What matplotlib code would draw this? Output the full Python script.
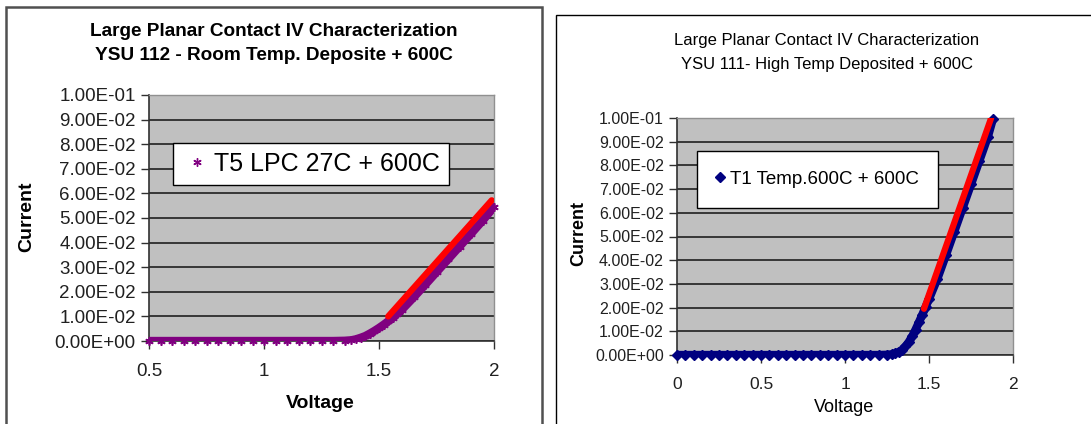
import matplotlib
matplotlib.use("Agg")
import matplotlib.pyplot as plt
from matplotlib.patches import Rectangle
from matplotlib.ticker import FuncFormatter
from matplotlib.lines import Line2D

# ---------------- data ----------------
left_label = "T5 LPC 27C + 600C"
right_label = "T1 Temp.600C + 600C"

left_v = [0.50, 0.55, 0.60, 0.65, 0.70, 0.75, 0.80, 0.85, 0.90, 0.95, 1.00, 1.05, 1.10,
          1.15, 1.20, 1.25, 1.30, 1.35, 1.38, 1.40, 1.42, 1.44, 1.46, 1.48, 1.50, 1.52,
          1.54, 1.56, 1.58, 1.60, 1.65, 1.70, 1.75, 1.80, 1.85, 1.90, 1.95, 2.00]
left_i = [0.0, 0.0, 0.0, 0.0, 0.0, 0.0, 0.0, 0.0, 0.0, 0.0, 0.0, 0.0, 0.0,
          0.0, 0.0, 0.0, 0.0, 0.0001, 0.0003, 0.0007, 0.0013, 0.0020, 0.0030, 0.0041, 0.0053, 0.0066,
          0.0080, 0.0095, 0.0111, 0.0128, 0.0177, 0.0228, 0.0280, 0.0332, 0.0384, 0.0436, 0.0489, 0.0545]
left_fit_v = [1.54, 1.99]
left_fit_i = [0.0100, 0.0572]

right_v = [0.00, 0.05, 0.10, 0.15, 0.20, 0.25, 0.30, 0.35, 0.40, 0.45, 0.50, 0.55, 0.60,
           0.65, 0.70, 0.75, 0.80, 0.85, 0.90, 0.95, 1.00, 1.05, 1.10, 1.15, 1.20, 1.25,
           1.28, 1.30, 1.32, 1.34, 1.36, 1.38, 1.40, 1.42, 1.44, 1.46, 1.48, 1.50,
           1.55, 1.60, 1.65, 1.70, 1.75, 1.80, 1.85, 1.88]
right_i = [0.0, 0.0, 0.0, 0.0, 0.0, 0.0, 0.0, 0.0, 0.0, 0.0, 0.0, 0.0, 0.0,
           0.0, 0.0, 0.0, 0.0, 0.0, 0.0, 0.0, 0.0, 0.0, 0.0, 0.0, 0.0, 0.0001,
           0.0003, 0.0007, 0.0013, 0.0022, 0.0036, 0.0055, 0.0079, 0.0107, 0.0138, 0.0170, 0.0203, 0.0236,
           0.0322, 0.0420, 0.0520, 0.0620, 0.0720, 0.0820, 0.0920, 0.0995]
right_fit_v = [1.47, 1.87]
right_fit_i = [0.0195, 0.1000]

y_ticks = [0.0, 0.01, 0.02, 0.03, 0.04, 0.05, 0.06, 0.07, 0.08, 0.09, 0.10]
left_xticks = [0.5, 1, 1.5, 2]
right_xticks = [0, 0.5, 1, 1.5, 2]

# ---------------- figure ----------------
W, H = 1091, 424
fig = plt.figure(figsize=(W / 100, H / 100), dpi=100)
fig.patch.set_facecolor("white")

def px(x, y):
    return x / W, 1 - y / H

REG = ["Liberation Sans", "DejaVu Sans"]

# panel frames
fig.add_artist(Rectangle(px(6, 430), (542 - 6) / W, (430 - 7) / H, transform=fig.transFigure,
                         fill=False, edgecolor="#505050", lw=1.8))
fig.add_artist(Rectangle(px(556, 430), (1100 - 556) / W, (430 - 15) / H, transform=fig.transFigure,
                         fill=False, edgecolor="black", lw=1.0))

def sci(v, pos):
    return f"{v:.2E}"

def gfmt(v, pos):
    return f"{v:g}"

def style_axes(ax, xlim, xticks, ysize, xsize):
    ax.set_facecolor("#c0c0c0")
    ax.set_xlim(*xlim)
    ax.set_ylim(0, 0.1)
    ax.set_yticks(y_ticks)
    ax.set_xticks(xticks)
    ax.yaxis.set_major_formatter(FuncFormatter(sci))
    ax.xaxis.set_major_formatter(FuncFormatter(gfmt))
    ax.grid(axis="y", color="#202020", lw=1.2)
    ax.set_axisbelow(True)
    for s in ["top", "right"]:
        ax.spines[s].set_color("#909090")
        ax.spines[s].set_linewidth(1.0)
    for s in ["left", "bottom"]:
        ax.spines[s].set_color("#303030")
        ax.spines[s].set_linewidth(1.2)
    ax.tick_params(axis="both", direction="out", length=6, width=1.0, color="#303030",
                   labelcolor="#202020")
    ax.tick_params(axis="y", labelsize=ysize)
    ax.tick_params(axis="x", labelsize=xsize, pad=10)
    for lab in ax.get_xticklabels() + ax.get_yticklabels():
        lab.set_family(REG)

# ---------- left panel ----------
axL = fig.add_axes([149 / W, 1 - 341 / H, (494 - 149) / W, (341 - 95) / H])
style_axes(axL, (0.5, 2.0), left_xticks, 13.5, 13.5)
axL.plot(left_v, left_i, color="#800080", lw=6, solid_capstyle="round", zorder=3)
axL.plot(left_v, left_i, ls="none", marker=(6, 2, 0), ms=6, mew=1.2, color="#800080",
         zorder=3, clip_on=False)
axL.plot(left_fit_v, left_fit_i, color="#ff0000", lw=4.5, solid_capstyle="round", zorder=4)
legL = axL.legend([Line2D([], [], ls="none", marker=(6, 2, 0), ms=6, mew=1.0, color="#800080")],
                  [left_label], loc="upper left",
                  bbox_to_anchor=(173 / W, 1 - 143 / H), bbox_transform=fig.transFigure,
                  frameon=True, fancybox=False, framealpha=1, edgecolor="black",
                  prop={"family": REG, "size": 18}, handlelength=1.2, handletextpad=0.1,
                  borderpad=0.35, borderaxespad=0)
legL.get_frame().set_linewidth(1.0)

fig.text(*px(274, 32), "Large Planar Contact IV Characterization", ha="center", va="center",
         fontsize=13.7, fontweight="bold", family=REG)
fig.text(*px(274, 55), "YSU 112 - Room Temp. Deposite + 600C", ha="center", va="center",
         fontsize=13.7, fontweight="bold", family=REG)
fig.text(*px(27, 217), "Current", ha="center", va="center", rotation=90,
         fontsize=14, fontweight="bold", family=REG)
fig.text(*px(320, 403), "Voltage", ha="center", va="center",
         fontsize=14, fontweight="bold", family=REG)

# ---------- right panel ----------
axR = fig.add_axes([677 / W, 1 - 355 / H, (1013 - 677) / W, (355 - 118) / H])
style_axes(axR, (0.0, 2.0), right_xticks, 11.5, 12.5)
axR.plot(right_v, right_i, color="#000080", lw=6, solid_capstyle="round", zorder=3)
axR.plot(right_v, right_i, ls="none", marker="D", ms=5, color="#000080", zorder=3, clip_on=False)
axR.plot(right_fit_v, right_fit_i, color="#ff0000", lw=4.5, solid_capstyle="round", zorder=4)
legR = axR.legend([Line2D([], [], ls="none", marker="D", ms=5, color="#000080")],
                  [right_label], loc="upper left",
                  bbox_to_anchor=(697 / W, 1 - 151 / H), bbox_transform=fig.transFigure,
                  frameon=True, fancybox=False, framealpha=1, edgecolor="black",
                  prop={"family": REG, "size": 13.5}, handlelength=0.3, handletextpad=0.4,
                  borderpad=1.05, borderaxespad=0)
legR.get_frame().set_linewidth(1.0)

fig.text(*px(827, 41), "Large Planar Contact IV Characterization", ha="center", va="center",
         fontsize=12, family=REG)
fig.text(*px(827, 64), "YSU 111- High Temp Deposited + 600C", ha="center", va="center",
         fontsize=12, family=REG)
fig.text(*px(579, 233), "Current", ha="center", va="center", rotation=90,
         fontsize=13, fontweight="bold", family=REG)
fig.text(*px(844, 408), "Voltage", ha="center", va="center",
         fontsize=13, family=REG)

fig.savefig("out.png", dpi=100, facecolor="white")
